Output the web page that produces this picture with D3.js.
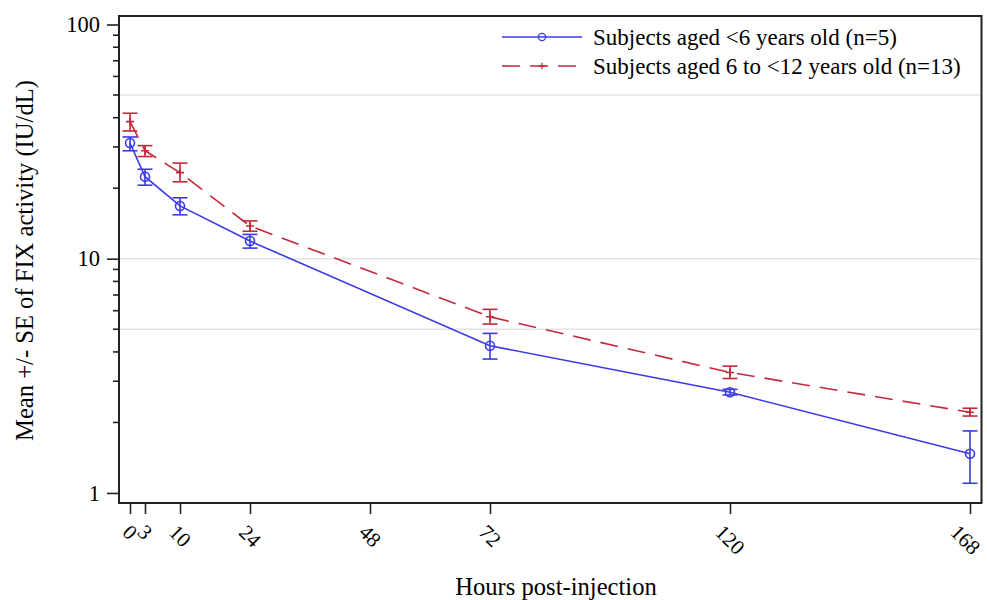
<!DOCTYPE html>
<html>
<head>
<meta charset="utf-8">
<script src="https://cdn.jsdelivr.net/npm/d3@7"></script>
<style>
  html, body { margin: 0; padding: 0; background: #fff; }
  svg { display: block; }
  svg text { font-family: "Liberation Serif", "Times New Roman", Times, "DejaVu Serif", serif !important; fill: #000; }
</style>
</head>
<body>
<svg id="chart" width="987" height="600"></svg>
<script>
// Sampling times (hours post-injection)
const hours = [0, 3, 10, 24, 72, 120, 168];
const xTicks = [0, 3, 10, 24, 48, 72, 120, 168];

// Mean FIX activity (IU/dL) with +/- SE bounds, by age group
const youngMean  = [31.2, 22.4, 16.8, 11.9, 4.25, 2.69, 1.47];
const youngLower = [28.9, 20.6, 15.4, 11.1, 3.73, 2.62, 1.10];
const youngUpper = [33.1, 24.1, 18.2, 12.7, 4.80, 2.77, 1.84];

const olderMean  = [38.5, 28.9, 23.3, 13.8, 5.65, 3.27, 2.21];
const olderLower = [35.1, 27.3, 21.3, 13.1, 5.26, 3.08, 2.13];
const olderUpper = [41.8, 30.4, 25.6, 14.5, 6.08, 3.48, 2.30];

const seriesNames = ["Subjects aged <6 years old (n=5)", "Subjects aged 6 to <12 years old (n=13)"];
const yMajor = [1, 10, 100];
const yGrid = [5, 10, 50];

const svg = d3.select("#chart");
const W = 987;
const plotLeft = 119, plotRight = 981.5, plotTop = 16, plotBottom = 503;

const x = d3.scaleLinear().domain([-2.2, 170.3]).range([plotLeft, plotRight]);
const y = d3.scaleLog().domain([0.906, 108.7]).range([plotBottom, plotTop]);

const blue = "#3a3ae6";
const red = "#c3283b";

// grid lines
svg.append("g").selectAll("line").data(yGrid).join("line")
  .attr("x1", plotLeft).attr("x2", plotRight)
  .attr("y1", d => y(d)).attr("y2", d => y(d))
  .attr("stroke", "#e4e4e4").attr("stroke-width", 1.5);

// y axis: major ticks with labels, minor ticks without
const minorTicks = [];
[1, 10].forEach(b => { for (let k = 2; k <= 9; k++) minorTicks.push(b * k); });
const yAxis = svg.append("g").attr("transform", `translate(${plotLeft},0)`);
yAxis.call(d3.axisLeft(y).tickValues(yMajor).tickFormat(d3.format("d")).tickSize(12).tickPadding(7));
yAxis.select(".domain").remove();
yAxis.selectAll(".tick line").attr("stroke", "#222").attr("stroke-width", 1.6);
yAxis.selectAll(".tick text").style("font-size", "22.5px");
yAxis.append("g").selectAll("line").data(minorTicks).join("line")
  .attr("x1", -6).attr("x2", 0)
  .attr("y1", d => y(d)).attr("y2", d => y(d))
  .attr("stroke", "#222").attr("stroke-width", 1.6);

// x axis ticks with rotated labels (kept inside the right edge)
const xAxis = svg.append("g").attr("transform", `translate(0,${plotBottom})`);
xAxis.call(d3.axisBottom(x).tickValues(xTicks).tickSize(11).tickFormat(""));
xAxis.select(".domain").remove();
xAxis.selectAll(".tick line").attr("stroke", "#222").attr("stroke-width", 1.6);
const xl = svg.append("g").selectAll("text").data(xTicks).join("text")
  .text(d => d)
  .style("font-size", "21px")
  .attr("text-anchor", "middle")
  .attr("dominant-baseline", "central");
xl.each(function(d) {
  const bb = this.getBBox();
  const half = (bb.width + bb.height) * 0.7072 / 2;
  const cx = Math.min(x(d), W - 2 - half);
  const cy = 524 + (bb.width + 13) * 0.707 / 2;
  d3.select(this).attr("transform", `translate(${cx},${cy}) rotate(45)`);
});

// plot frame
svg.append("rect")
  .attr("x", plotLeft).attr("y", plotTop)
  .attr("width", plotRight - plotLeft).attr("height", plotBottom - plotTop)
  .attr("fill", "none").attr("stroke", "#222").attr("stroke-width", 2);

// axis titles
svg.append("text")
  .attr("transform", `translate(33,${(plotTop + plotBottom) / 2 + 1}) rotate(-90)`)
  .attr("text-anchor", "middle")
  .style("font-size", "24.6px")
  .text("Mean +/- SE of FIX activity (IU/dL)");
svg.append("text")
  .attr("x", 556).attr("y", 595)
  .attr("text-anchor", "middle")
  .style("font-size", "24.6px")
  .text("Hours post-injection");

// series
function drawSeries(mean, lo, hi, color, dash, marker) {
  const g = svg.append("g");
  const pts = hours.map((h, i) => ({ h, m: mean[i], lo: lo[i], hi: hi[i] }));
  const line = d3.line().x(d => x(d.h)).y(d => y(d.m));
  g.append("path").datum(pts).attr("d", line)
    .attr("fill", "none").attr("stroke", color).attr("stroke-width", 1.6)
    .attr("stroke-dasharray", dash);
  const cap = 7.5;
  const eb = g.selectAll("g.eb").data(pts).join("g");
  eb.append("line").attr("x1", d => x(d.h)).attr("x2", d => x(d.h))
    .attr("y1", d => y(d.lo)).attr("y2", d => y(d.hi))
    .attr("stroke", color).attr("stroke-width", 1.6);
  eb.append("line").attr("x1", d => x(d.h) - cap).attr("x2", d => x(d.h) + cap)
    .attr("y1", d => y(d.lo)).attr("y2", d => y(d.lo))
    .attr("stroke", color).attr("stroke-width", 1.6);
  eb.append("line").attr("x1", d => x(d.h) - cap).attr("x2", d => x(d.h) + cap)
    .attr("y1", d => y(d.hi)).attr("y2", d => y(d.hi))
    .attr("stroke", color).attr("stroke-width", 1.6);
  marker(g.selectAll("g.mk").data(pts).join("g")
    .attr("transform", d => `translate(${x(d.h)},${y(d.m)})`));
}
const circleMarker = sel => sel.append("circle").attr("r", 4.5)
  .attr("fill", "none").attr("stroke", blue).attr("stroke-width", 1.6);
const plusMarker = sel => sel.append("path").attr("d", "M-4,0H4M0,-4V4")
  .attr("stroke", red).attr("stroke-width", 1.6);

drawSeries(youngMean, youngLower, youngUpper, blue, null, circleMarker);
drawSeries(olderMean, olderLower, olderUpper, red, "18,10", plusMarker);

// legend
const legend = svg.append("g");
const rows = [
  { name: seriesNames[0], color: blue, dash: null, marker: circleMarker, y: 37 },
  { name: seriesNames[1], color: red, dash: "18,10", marker: plusMarker, y: 66 }
];
rows.forEach(r => {
  legend.append("line").attr("x1", 502).attr("x2", 582).attr("y1", r.y).attr("y2", r.y)
    .attr("stroke", r.color).attr("stroke-width", 1.6).attr("stroke-dasharray", r.dash);
  r.marker(legend.append("g").attr("transform", `translate(542,${r.y}) scale(0.8)`));
  legend.append("text").attr("x", 593).attr("y", r.y + 8)
    .style("font-size", "23px").text(r.name);
});
</script>
</body>
</html>
